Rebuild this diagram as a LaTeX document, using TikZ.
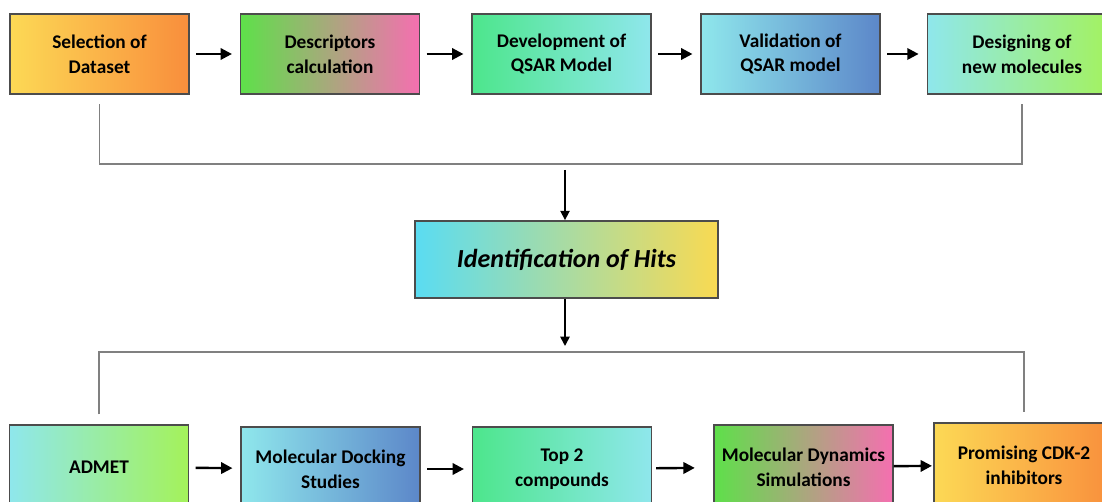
\documentclass[tikz,border=0pt]{standalone}
\usepackage{fontspec}
\setmainfont{Carlito}
\usepackage{xcolor}
\usetikzlibrary{arrows.meta,positioning}
\definecolor{stageyellow}{HTML}{FCD955}
\definecolor{stageorange}{HTML}{F98E3C}
\definecolor{stagegreen}{HTML}{5EE04A}
\definecolor{stagepink}{HTML}{F56FB0}
\definecolor{stagemint}{HTML}{4DE68C}
\definecolor{stagecyan}{HTML}{8FE7EC}
\definecolor{stageblue}{HTML}{5C87C9}
\definecolor{stagelime}{HTML}{A4F25A}
\definecolor{hitcyan}{HTML}{5ADCF2}
\definecolor{hityellow}{HTML}{F9DA52}
\tikzset{
  stagebox/.style={draw=black!70,line width=1.1pt,minimum width=134pt,minimum height=60pt,align=center,inner sep=2pt,font=\bfseries\fontsize{14.5}{18.5}\selectfont},
  lowbox/.style={stagebox,minimum height=63pt},
  warm/.style={left color=stageyellow,right color=stageorange},
  blush/.style={left color=stagegreen,right color=stagepink},
  mint/.style={left color=stagemint,right color=stagecyan},
  sky/.style={left color=stagecyan,right color=stageblue},
  fresh/.style={left color=stagecyan,right color=stagelime},
  flow/.style={-{Triangle[length=8.5pt,width=8.5pt]},line width=1.8pt,shorten <=5pt,shorten >=6pt},
  drop/.style={-{Triangle[length=7pt,width=7pt]},line width=1.2pt},
  joint/.style={draw=black!50,line width=1.3pt}
}
\begin{document}
\begin{tikzpicture}[x=0.75pt,y=-0.75pt]
\clip (0,0) rectangle (1102,502);
% QSAR stages
\node[stagebox,warm] (sel) at (99.5,54) {Selection of\\Dataset};
\node[stagebox,blush] (desc) at (330,54) {Descriptors\\calculation};
\node[stagebox,mint] (dev) at (561.5,54) {Development of\\QSAR Model};
\node[stagebox,sky] (valid) at (790.5,54) {Validation of\\QSAR model};
\node[stagebox,fresh,minimum width=142pt] (design) at (1022,54) {Designing of\\new molecules};
\draw[flow] (sel) -- (desc);
\draw[flow] (desc) -- (dev);
\draw[flow] (dev) -- (valid);
\draw[flow] (valid) -- (design);
% hits
\coordinate (topjoin) at (565,164);
\coordinate (botjoin) at (565,352);
\node[stagebox,left color=hitcyan,right color=hityellow,minimum width=227pt,minimum height=58pt,font=\bfseries\itshape\fontsize{19.5}{23}\selectfont] (hits) at (566.5,259.5) {Identification of Hits};
\draw[joint] ([yshift=-7pt]sel.south) |- (topjoin) -| ([yshift=-7pt]design.south);
\draw[drop] ([yshift=-4.5pt]topjoin) -- (hits.north -| topjoin);
\draw[drop] (hits.south -| topjoin) -- ([yshift=4.5pt]botjoin);
% screening stages
\node[lowbox,fresh] (admet) at (99,467) {ADMET};
\node[lowbox,sky] (dock) at (330.5,469) {Molecular Docking\\Studies};
\node[lowbox,mint] (top) at (562,469) {Top 2\\compounds};
\node[lowbox,blush] (mds) at (803.5,467) {Molecular Dynamics\\Simulations};
\node[lowbox,warm,minimum width=135pt] (cdk) at (1024,465) {Promising CDK-2\\inhibitors};
\draw[joint] ([yshift=7.5pt]admet.north) |- (botjoin) -| ([yshift=7.5pt]cdk.north);
\draw[flow] (admet) -- (dock);
\draw[flow] (dock) -- (top);
\draw[flow,shorten >=14pt,shorten <=3pt] (top) -- (mds);
\draw[flow,shorten <=0pt,shorten >=1pt] (mds) -- (cdk);
\end{tikzpicture}
\end{document}
